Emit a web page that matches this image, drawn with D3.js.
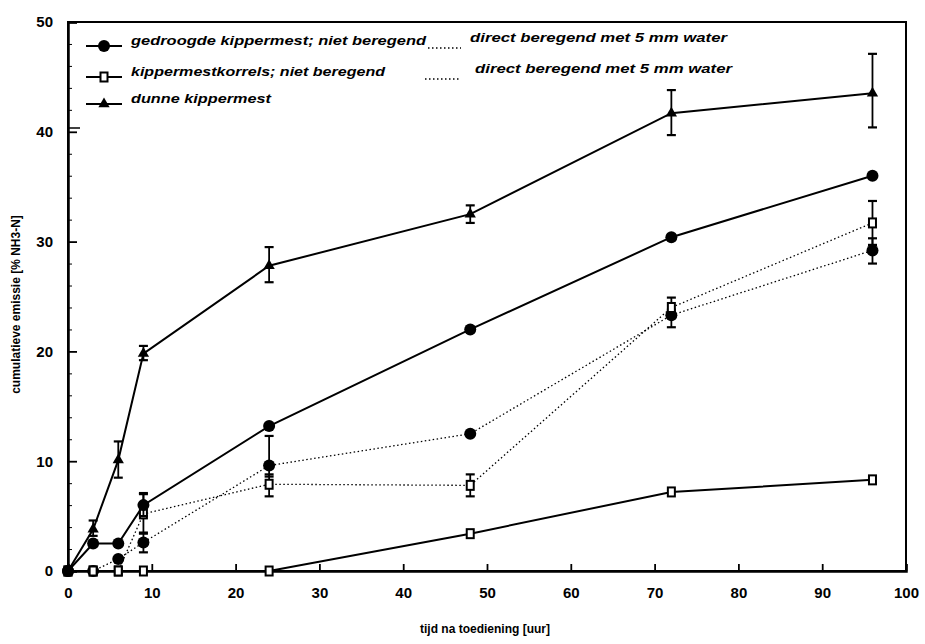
<!DOCTYPE html>
<html><head><meta charset="utf-8">
<script src="https://cdn.jsdelivr.net/npm/d3@7"></script>
<style>body{margin:0;background:#fff}svg{display:block}</style>
</head><body>
<svg id="c" width="925" height="644"></svg>
<script>
const times = [0, 3, 6, 9, 24, 48, 72, 96];
const xTicks = [0,10,20,30,40,50,60,70,80,90,100];
const yTicks = [0,10,20,30,40,50];

const driedNotWatered = [0, 2.5, 2.5, 6.0, 13.2, 22.0, 30.4, 36.0];
const driedNotWateredLo = [null, null, null, 5.0, null, null, null, null];
const driedNotWateredHi = [null, null, null, 7.0, null, null, null, null];

const pelletsNotWatered = [0, 0, 0, 0, 0, 3.4, 7.2, 8.3];

const slurry = [0, 3.8, 10.1, 19.8, 27.8, 32.5, 41.7, 43.5];
const slurryLo = [null, 3.2, 8.5, 19.2, 26.3, 31.7, 39.7, 40.4];
const slurryHi = [null, 4.6, 11.8, 20.5, 29.5, 33.3, 43.8, 47.1];

const driedWatered = [0, 0, 1.1, 2.6, 9.6, 12.5, 23.3, 29.2];
const driedWateredLo = [null, null, null, 1.7, 8.6, null, 22.2, 28.0];
const driedWateredHi = [null, null, null, 3.5, 12.3, null, 23.8, 30.3];

const pelletsWatered = [0, 0, 0, 5.2, 7.9, 7.8, 24.0, 31.7];
const pelletsWateredLo = [null, null, null, 3.4, 6.8, 6.8, 23.5, 29.7];
const pelletsWateredHi = [null, null, null, 7.1, 8.8, 8.8, 24.9, 33.7];

const legendLeft = ["gedroogde kippermest; niet beregend", "kippermestkorrels; niet beregend", "dunne kippermest"];
const legendRight = ["direct beregend met 5 mm water", "direct beregend met 5 mm water"];
const xTitle = "tijd na toediening [uur]";
const yTitle = "cumulatieve emissie [% NH3-N]";

const svg = d3.select("#c");
const L = 68, R = 906, T = 22, B = 571;
const x = d3.scaleLinear().domain([0,100]).range([L,R]);
const y = d3.scaleLinear().domain([0,50]).range([B,T]);
const font = "'Liberation Sans', Arial, sans-serif";

// frame
svg.append("rect").attr("x",L).attr("y",T).attr("width",R-L).attr("height",B-T)
  .attr("fill","none").attr("stroke","#000").attr("stroke-width",2);

// axes (ticks inward)
const xa = svg.append("g").attr("transform",`translate(0,${B})`)
  .call(d3.axisBottom(x).tickValues(xTicks).tickSize(-7).tickFormat(d3.format("d")));
const ya = svg.append("g").attr("transform",`translate(${L},0)`)
  .call(d3.axisLeft(y).tickValues(yTicks).tickSize(-9).tickFormat(d3.format("d")));
[xa,ya].forEach(a=>{
  a.select(".domain").attr("stroke-width",2.5);
  a.selectAll(".tick line").attr("stroke-width",1.8);
  a.selectAll(".tick text").attr("font-family",font).attr("font-weight","bold").attr("font-size",15).attr("fill","#000");
});
xa.selectAll(".tick text").attr("dy","1.6em");
ya.selectAll(".tick text").attr("dx","-0.8em");
// minor y ticks
svg.append("g").attr("transform",`translate(${L},0)`)
  .call(d3.axisLeft(y).tickValues(d3.range(0,50,2).filter(v=>v%10)).tickSize(-4).tickFormat(""))
  .call(g=>g.select(".domain").remove());

// titles
svg.append("text").attr("x",(L+R)/2-2).attr("y",633).attr("text-anchor","middle")
  .attr("font-family",font).attr("font-weight","bold").attr("font-size",12).text(xTitle);
svg.append("text").attr("transform",`translate(20,${(T+B)/2+8}) rotate(-90)`).attr("text-anchor","middle")
  .attr("font-family",font).attr("font-weight","bold").attr("font-size",12).text(yTitle);

const line = d3.line().x((d,i)=>x(times[i])).y(d=>y(d));

function series(vals, lo, hi, dotted, marker){
  const g = svg.append("g");
  g.append("path").attr("d", line(vals)).attr("fill","none").attr("stroke","#000")
    .attr("stroke-width", dotted?1.3:2).attr("stroke-dasharray", dotted?"1.5,2.5":null);
  if (lo) vals.forEach((v,i)=>{
    if (lo[i]==null) return;
    const cx = x(times[i]);
    g.append("line").attr("x1",cx).attr("x2",cx).attr("y1",y(lo[i])).attr("y2",y(hi[i])).attr("stroke","#000").attr("stroke-width",1.8);
    [lo[i],hi[i]].forEach(e=>g.append("line").attr("x1",cx-4.5).attr("x2",cx+4.5).attr("y1",y(e)).attr("y2",y(e)).attr("stroke","#000").attr("stroke-width",2.2));
  });
  if (marker) vals.forEach((v,i)=>drawMarker(g, marker, x(times[i]), y(v)));
}
function drawMarker(g, m, cx, cy){
  if (m==="circle") g.append("circle").attr("cx",cx).attr("cy",cy).attr("r",6).attr("fill","#000");
  else if (m==="square") g.append("rect").attr("x",cx-3.5).attr("y",cy-4.5).attr("width",7).attr("height",9)
    .attr("fill","#fff").attr("stroke","#000").attr("stroke-width",2);
  else if (m==="triangle") g.append("path").attr("d",d3.symbol(d3.symbolTriangle,55)()).attr("transform",`translate(${cx},${cy})`).attr("fill","#000");
}

series(driedWatered, driedWateredLo, driedWateredHi, true, "circle");
series(pelletsWatered, pelletsWateredLo, pelletsWateredHi, true, "square");
series(pelletsNotWatered, null, null, false, "square");
series(driedNotWatered, driedNotWateredLo, driedNotWateredHi, false, "circle");
series(slurry, slurryLo, slurryHi, false, "triangle");

// legend
const lg = svg.append("g");
const rowsY = [46, 77, 104];
const markers = ["circle","square","triangle"];
const leftW = [295, 254, 140];
lg.append("path").attr("d",`M${L},128H80`).attr("fill","none").attr("stroke","#000").attr("stroke-width",1.5);
legendLeft.forEach((t,i)=>{
  const yy = rowsY[i];
  lg.append("line").attr("x1",86).attr("x2",122).attr("y1",yy).attr("y2",yy).attr("stroke","#000").attr("stroke-width",2);
  drawMarker(lg, markers[i], 104, yy);
  lg.append("text").attr("x",131).attr("y",yy-1).attr("font-family",font).attr("font-weight","bold").attr("font-style","italic")
    .attr("font-size",13).attr("textLength",leftW[i]).attr("lengthAdjust","spacingAndGlyphs").text(t);
});
legendRight.forEach((t,i)=>{
  const yy = rowsY[i];
  lg.append("line").attr("x1",i?425:428).attr("x2",461).attr("y1",yy+2).attr("y2",yy+2).attr("stroke","#000")
    .attr("stroke-width",1.3).attr("stroke-dasharray","1.5,2.5");
  lg.append("text").attr("x",i?475:470).attr("y",yy-4).attr("font-family",font).attr("font-weight","bold").attr("font-style","italic")
    .attr("font-size",13).attr("textLength",257).attr("lengthAdjust","spacingAndGlyphs").text(t);
});
</script>
</body></html>
